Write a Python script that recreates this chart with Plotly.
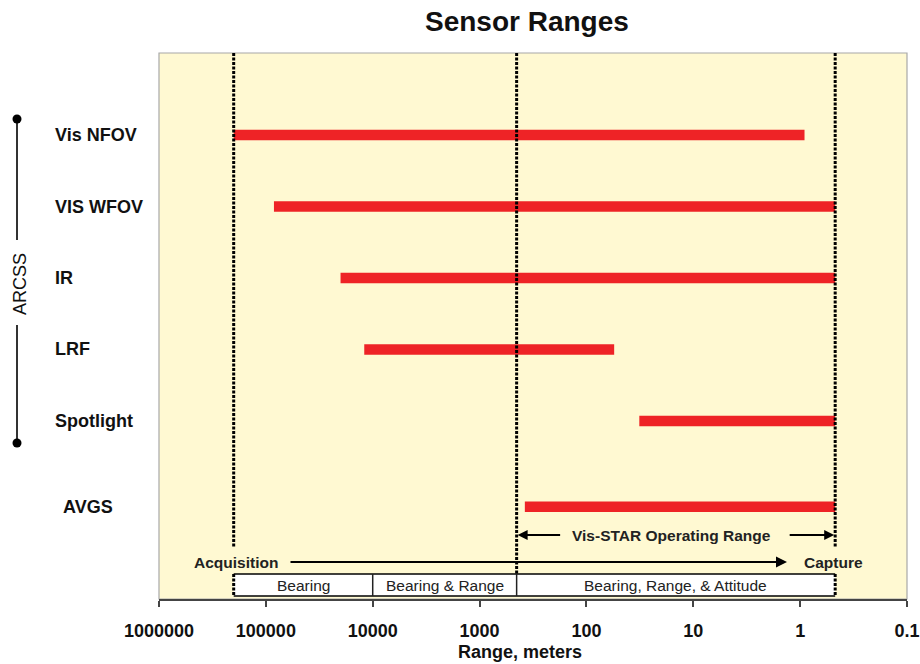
import math
import plotly.graph_objects as go

# ---------------- data ----------------
SENSORS = ["Vis NFOV", "VIS WFOV", "IR", "LRF", "Spotlight", "AVGS"]
RANGE_MAX = [200000, 84000, 20000, 12000, 32, 377]      # meters (far end)
RANGE_MIN = [0.91, 0.47, 0.47, 55, 0.47, 0.47]          # meters (near end)

BOUNDARIES = [200000, 450, 0.47]                          # acquisition, Vis-STAR start, capture
PHASE_LABELS = ["Bearing", "Bearing & Range", "Bearing, Range, & Attitude"]
PHASE_EDGES = [200000, 10000, 450, 0.47]

TICK_VALS = [1000000, 100000, 10000, 1000, 100, 10, 1, 0.1]
TICK_TEXT = ["1000000", "100000", "10000", "1000", "100", "10", "1", "0.1"]

# ---------------- layout constants ----------------
W, H = 920, 664
ML, MR, MT, MB = 159, 13, 53, 65
PW, PH = W - ML - MR, H - MT - MB
ROW_POS = [0, 1, 2, 3, 4, 5.2]
Y_RANGE = [6.49, -1.147]
FONT = "Liberation Sans, Arial, sans-serif"
RED = "#EE2326"
BG = "#FFF9D2"


def py(pix):
    """pixel row (from top of page) -> paper y"""
    return (MT + PH - pix) / PH


def pxp(pix):
    """pixel column -> paper x"""
    return (pix - ML) / PW


fig = go.Figure()

# bars
xs, ys = [], []
for lo, hi, r in zip(RANGE_MIN, RANGE_MAX, ROW_POS):
    xs += [hi, lo, None]
    ys += [r, r, None]
fig.add_trace(go.Scatter(x=xs, y=ys, mode="lines",
                         line=dict(color=RED, width=10.5),
                         hoverinfo="skip", showlegend=False))

shapes = []
# plot border
shapes.append(dict(type="rect", xref="paper", yref="paper", x0=0, x1=1, y0=0, y1=1,
                   line=dict(color="#A8A8A8", width=1.2), layer="below"))

DASH = dict(color="black", width=3, dash="3px,1.5px")
acq, vis, cap = BOUNDARIES          # shapes on a log axis take data values

# phase box
shapes.append(dict(type="rect", xref="x", yref="paper",
                   x0=PHASE_EDGES[0], x1=PHASE_EDGES[-1],
                   y0=py(596), y1=py(574), fillcolor="white", line=dict(width=0)))
for yy in (574, 596):
    shapes.append(dict(type="line", xref="x", yref="paper",
                       x0=PHASE_EDGES[0], x1=PHASE_EDGES[-1],
                       y0=py(yy), y1=py(yy), line=dict(color="black", width=1.5)))
for e in PHASE_EDGES[1:-1]:
    shapes.append(dict(type="line", xref="x", yref="paper",
                       x0=e, x1=e, y0=py(596), y1=py(574),
                       line=dict(color="#222", width=1.5)))

# dashed boundary lines
for xv in (acq, cap):
    shapes.append(dict(type="line", xref="x", yref="paper", x0=xv, x1=xv,
                       y0=1, y1=py(548), line=DASH))
    shapes.append(dict(type="line", xref="x", yref="paper", x0=xv, x1=xv,
                       y0=py(574), y1=py(596), line=DASH))
shapes.append(dict(type="line", xref="x", yref="paper", x0=vis, x1=vis,
                   y0=1, y1=py(574), line=DASH))

# ARCSS bracket
bx = pxp(17)
shapes.append(dict(type="line", xref="paper", yref="paper", x0=bx, x1=bx,
                   y0=py(119), y1=py(240), line=dict(color="#333", width=2)))
shapes.append(dict(type="line", xref="paper", yref="paper", x0=bx, x1=bx,
                   y0=py(325), y1=py(443), line=dict(color="#333", width=2)))
for yy in (119, 443):
    shapes.append(dict(type="circle", xref="paper", yref="paper",
                       xsizemode="pixel", ysizemode="pixel",
                       xanchor=bx, yanchor=py(yy), x0=-4.5, x1=4.5, y0=-4.5, y1=4.5,
                       fillcolor="black", line=dict(color="black", width=0)))

ann = []
# row labels
for name, r in zip(SENSORS, ROW_POS):
    ann.append(dict(text=name, xref="paper", yref="y", x=pxp(53 if name != "AVGS" else 61),
                    y=r, xanchor="left", yanchor="middle", showarrow=False,
                    font=dict(family=FONT, size=18, color="#111", weight="bold")))
# ARCSS
ann.append(dict(text="ARCSS", xref="paper", yref="paper", x=pxp(20), y=py(284),
                textangle=-90, showarrow=False, xanchor="center", yanchor="middle",
                font=dict(family=FONT, size=18, color="#111")))

# phase labels (annotations on a log axis take log10 positions)
for i, lab in enumerate(PHASE_LABELS):
    c = (math.log10(PHASE_EDGES[i]) + math.log10(PHASE_EDGES[i + 1])) / 2
    ann.append(dict(text=lab, xref="x", yref="paper", x=c, y=py(585),
                    showarrow=False, xanchor="center", yanchor="middle",
                    font=dict(family=FONT, size=15.5, color="#222")))

bold15 = dict(family=FONT, size=15.5, color="#222", weight="bold")
ann.append(dict(text="Acquisition", xref="paper", yref="paper", x=pxp(192), y=py(562),
                xanchor="left", yanchor="middle", showarrow=False, font=bold15))
ann.append(dict(text="Capture", xref="paper", yref="paper", x=pxp(802), y=py(562),
                xanchor="left", yanchor="middle", showarrow=False, font=bold15))
ann.append(dict(text="", xref="paper", yref="paper", x=pxp(787), y=py(562),
                ax=289 - 787, ay=0, axref="pixel", ayref="pixel",
                showarrow=True, arrowhead=2, arrowsize=1, arrowwidth=2.2,
                arrowcolor="black", standoff=0, startstandoff=0))

ann.append(dict(text="Vis-STAR Operating Range", xref="paper", yref="paper",
                x=pxp(671), y=py(535), xanchor="center", yanchor="middle",
                showarrow=False, font=bold15))
ann.append(dict(text="", xref="x", yref="paper", x=math.log10(vis), y=py(535),
                ax=45, ay=0, axref="pixel", ayref="pixel",
                showarrow=True, arrowhead=2, arrowsize=1, arrowwidth=2,
                arrowcolor="black", standoff=1, startstandoff=0))
ann.append(dict(text="", xref="x", yref="paper", x=math.log10(cap), y=py(535),
                ax=-47, ay=0, axref="pixel", ayref="pixel",
                showarrow=True, arrowhead=2, arrowsize=1, arrowwidth=2,
                arrowcolor="black", standoff=1, startstandoff=0))

# title and axis title
ann.append(dict(text="Sensor Ranges", xref="paper", yref="paper", x=pxp(527),
                y=py(22), xanchor="center", yanchor="middle", showarrow=False,
                font=dict(family=FONT, size=28, color="#111", weight="bold")))
ann.append(dict(text="Range, meters", xref="paper", yref="paper", x=pxp(520),
                y=py(652), xanchor="center", yanchor="middle", showarrow=False,
                font=dict(family=FONT, size=18, color="#111", weight="bold")))

fig.update_layout(
    width=W, height=H,
    margin=dict(l=ML, r=MR, t=MT, b=MB, autoexpand=False),
    paper_bgcolor="white", plot_bgcolor=BG,
    shapes=shapes, annotations=ann, showlegend=False,
    xaxis=dict(type="log", range=[6, -1], tickvals=TICK_VALS, ticktext=TICK_TEXT,
               showgrid=False, zeroline=False, showline=True, linecolor="#444",
               linewidth=1.5, ticks="outside", ticklen=6, tickwidth=1.5,
               tickcolor="#444", ticklabelstandoff=9,
               tickfont=dict(family=FONT, size=18, color="#111", weight="bold")),
    yaxis=dict(range=Y_RANGE, showgrid=False, zeroline=False, showticklabels=False,
               showline=False, ticks=""),
)

fig.write_html("out.html",
               config={"displayModeBar": False},
               post_script="document.body.style.margin='0px';"
                           "document.body.style.overflow='hidden';")
